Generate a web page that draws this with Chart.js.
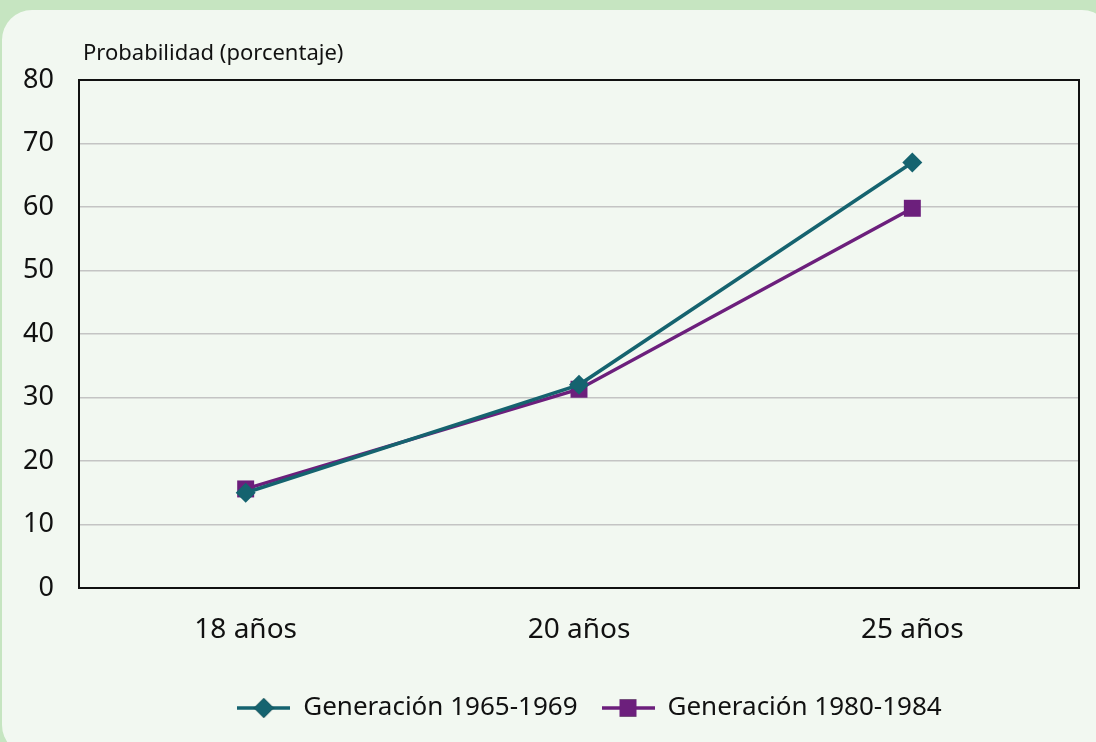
<!DOCTYPE html>
<html>
<head>
<meta charset="utf-8">
<script src="https://cdn.jsdelivr.net/npm/chart.js@4.4.1/dist/chart.umd.min.js"></script>
<style>
  html, body { margin: 0; padding: 0; background: #c6e5c1; overflow: hidden; }
  #panel { position: absolute; left: 2px; top: 10px; width: 1110px; height: 745px; background: #f2f8f1; border-radius: 30px; }
  #wrap { position: absolute; left: 0; top: 0; width: 1096px; height: 742px; }
</style>
</head>
<body>
<div id="panel"></div>
<div id="wrap"><canvas id="c" width="1096" height="742"></canvas></div>
<script>
const categories = ['18 años', '20 años', '25 años']
const gen1965 = [15, 32, 67]
const gen1980 = [15.6, 31.3, 59.8]
const seriesLabels = ['Generación 1965-1969', 'Generación 1980-1984']
const yTitle = 'Probabilidad (porcentaje)'

const FONT = "'Noto Sans', 'DejaVu Sans', sans-serif"
const TEAL = '#15636f'
const PURPLE = '#6c1f7c'

// little line+marker picture for the legend
function legendIcon(color, style, r){
  const c = document.createElement('canvas')
  c.width = 53; c.height = 26
  const g = c.getContext('2d')
  g.strokeStyle = color; g.lineWidth = 3.5
  g.beginPath(); g.moveTo(0, 13); g.lineTo(53, 13); g.stroke()
  Chart.helpers.drawPoint(g, {pointStyle: style, radius: r, rotation: 0, borderWidth: 0}, 26.5, 13)
  g.fillStyle = color
  g.fill()
  return c
}

const frame = {
  id: 'frame',
  afterLayout(chart){
    // legend sits a bit right of centre in the original
    if(chart.legend) chart.legend.left += 100
  },
  afterDraw(chart){
    const {ctx, chartArea: a} = chart
    ctx.save()
    ctx.strokeStyle = '#111'
    ctx.lineWidth = 2
    ctx.strokeRect(a.left, a.top, a.right - a.left, a.bottom - a.top)
    ctx.fillStyle = '#111'
    ctx.font = '22px ' + FONT
    ctx.textBaseline = 'alphabetic'
    ctx.fillText(yTitle, a.left + 4, 60)
    ctx.restore()
  }
}

let icons
const chart = new Chart(document.getElementById('c'), {
  type: 'line',
  data: {
    labels: categories,
    datasets: [
      {
        label: seriesLabels[0],
        data: gen1965,
        borderColor: TEAL,
        backgroundColor: TEAL,
        borderWidth: 3.5,
        pointStyle: 'rectRot',
        pointRadius: 10,
        pointBorderWidth: 0,
        tension: 0
      },
      {
        label: seriesLabels[1],
        data: gen1980,
        borderColor: PURPLE,
        backgroundColor: PURPLE,
        borderWidth: 3.5,
        pointStyle: 'rect',
        pointRadius: 12,
        pointBorderWidth: 0,
        tension: 0
      }
    ]
  },
  options: {
    responsive: false,
    animation: false,
    layout: { padding: { top: 80, right: 17, left: 0, bottom: 11 } },
    scales: {
      x: {
        offset: true,
        grid: { display: false },
        border: { display: true, color: '#111', width: 2 },
        ticks: { font: { size: 28, family: FONT }, color: '#111', padding: 17 },
        afterFit: (s) => { s.height = 83 }
      },
      y: {
        min: 0,
        max: 80,
        grid: { color: '#c4c4c4', lineWidth: 1.5, drawTicks: false },
        border: { display: true, color: '#111', width: 2 },
        ticks: { stepSize: 10, font: { size: 27, family: FONT }, color: '#111', padding: 25 },
        afterFit: (s) => { s.width = 79 }
      }
    },
    plugins: {
      tooltip: { enabled: false },
      legend: {
        position: 'bottom',
        labels: {
          usePointStyle: true,
          pointStyleWidth: 53,
          padding: 24,
          color: '#111',
          font: { size: 26, family: FONT },
          generateLabels: (ch) => {
            if(!icons) icons = [legendIcon(TEAL, 'rectRot', 10), legendIcon(PURPLE, 'rect', 12)]
            const items = Chart.defaults.plugins.legend.labels.generateLabels(ch)
            items.forEach((it, i) => { it.pointStyle = icons[i] })
            return items
          }
        }
      }
    }
  },
  plugins: [frame]
})
</script>
</body>
</html>
